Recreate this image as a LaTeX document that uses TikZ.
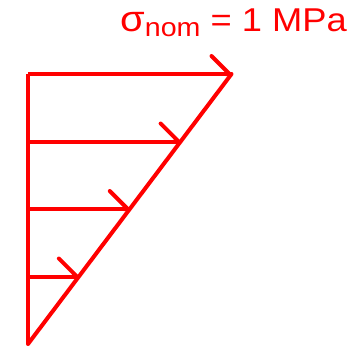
\documentclass[tikz,border=0pt]{standalone}
\usepackage{fontspec}
\setmainfont{Liberation Sans}
\usepackage{tikz}
\usetikzlibrary{arrows.meta,positioning,calc}
\definecolor{loadred}{RGB}{255,0,0}

\begin{document}
\begin{tikzpicture}[
  x=1pt, y=-1pt,
  edge/.style={loadred, line width=4pt},
  load/.style={edge, -{Straight Barb[left,round,length=18pt,width=36pt]}},
  label/.style={text=loadred, inner sep=0pt, anchor=base east,
    font=\fontsize{33}{36}\selectfont}
]
\useasboundingbox (0,0) rectangle (352,350);

\coordinate (top) at (28,74);
\coordinate (tip) at (231.5,74);
\coordinate (base) at (28,344);
\coordinate (p1) at ($(base)!0.25!(tip)$);
\coordinate (p2) at ($(base)!0.5!(tip)$);
\coordinate (p3) at ($(base)!0.75!(tip)$);

\draw[edge, line join=miter] (base) -- (top);
\draw[load] (top) -- (tip);
\draw[edge, line cap=round] (base) -- (tip);
\draw[load] (base |- p1) -- (p1);
\draw[load] (base |- p2) -- (p2);
\draw[load] (base |- p3) -- (p3);

\node[label] (sigma) at (347,32)
  {\scalebox{1.1}[1]{\scalebox{1.1}{σ}\raisebox{-5pt}{\fontsize{26}{28}\selectfont nom} = 1 MPa}};
\end{tikzpicture}
\end{document}
